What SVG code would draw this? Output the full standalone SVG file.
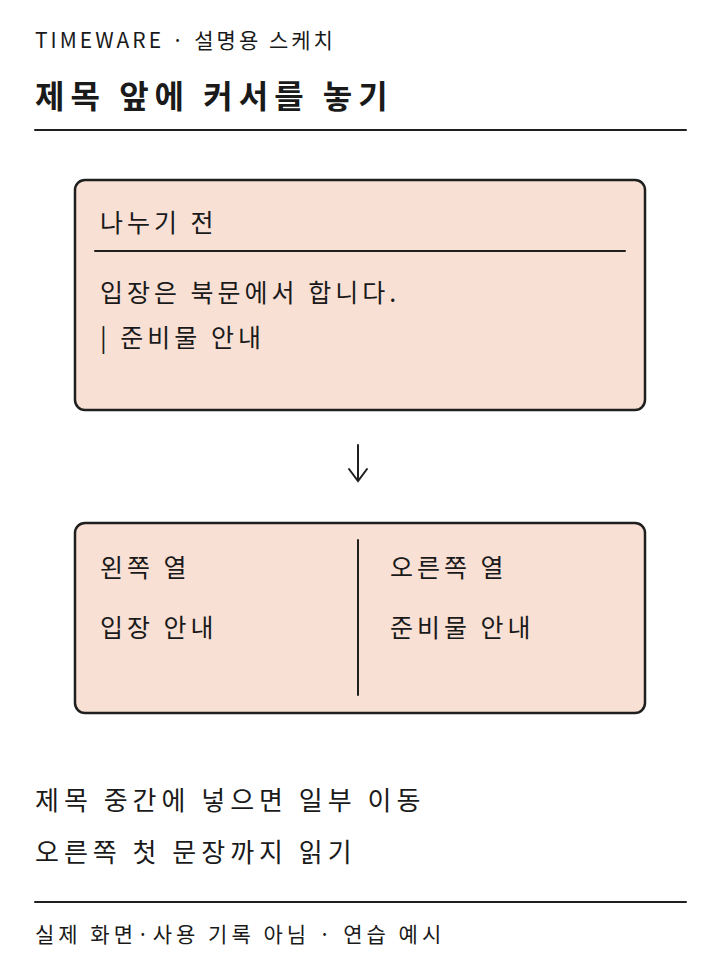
<svg xmlns="http://www.w3.org/2000/svg" width="720" height="960" viewBox="0 0 720 960">
<style>
text{font-family:"Noto Sans CJK KR","Noto Sans",sans-serif;fill:#1a1a1a}
.box{fill:#f9e0d5;stroke:#1f1f1f;stroke-width:2.5}
.ln{stroke:#1f1f1f;stroke-width:2;fill:none;stroke-linecap:round}
.t{font-size:25px;letter-spacing:4px}
</style>
<rect width="720" height="960" fill="#fff"/>
<g id="header">
<text x="35" y="48" font-size="21" letter-spacing="3">TIMEWARE · 설명용 스케치</text>
<text x="35" y="108" font-size="32" font-weight="bold" letter-spacing="6">제목 앞에 커서를 놓기</text>
<line x1="35" y1="130" x2="686" y2="130" class="ln"/>
</g>
<g id="before">
<rect x="75" y="180" width="570" height="230" rx="10" class="box"/>
<text x="100" y="232" class="t">나누기 전</text>
<line x1="95" y1="251" x2="625" y2="251" class="ln"/>
<text x="100" y="302" class="t">입장은 북문에서 합니다.</text>
<text x="100" y="347" class="t">| 준비물 안내</text>
</g>
<g id="connectors">
<path d="M358,445 L358,481 M349,469 L358,481 L367,469" class="ln"/>
</g>
<g id="after">
<rect x="75" y="523" width="570" height="190" rx="10" class="box"/>
<line x1="358" y1="540" x2="358" y2="695" class="ln"/>
<text x="100" y="577" class="t">왼쪽 열</text>
<text x="100" y="637" class="t">입장 안내</text>
<text x="390" y="577" class="t">오른쪽 열</text>
<text x="390" y="637" class="t">준비물 안내</text>
</g>
<g id="notes">
<text x="35" y="810" font-size="26" letter-spacing="5">제목 중간에 넣으면 일부 이동</text>
<text x="35" y="862" font-size="26" letter-spacing="5">오른쪽 첫 문장까지 읽기</text>
<line x1="35" y1="902" x2="686" y2="902" class="ln"/>
<text x="35" y="942" font-size="21" letter-spacing="4">실제 화면·사용 기록 아님 · 연습 예시</text>
</g>
</svg>
